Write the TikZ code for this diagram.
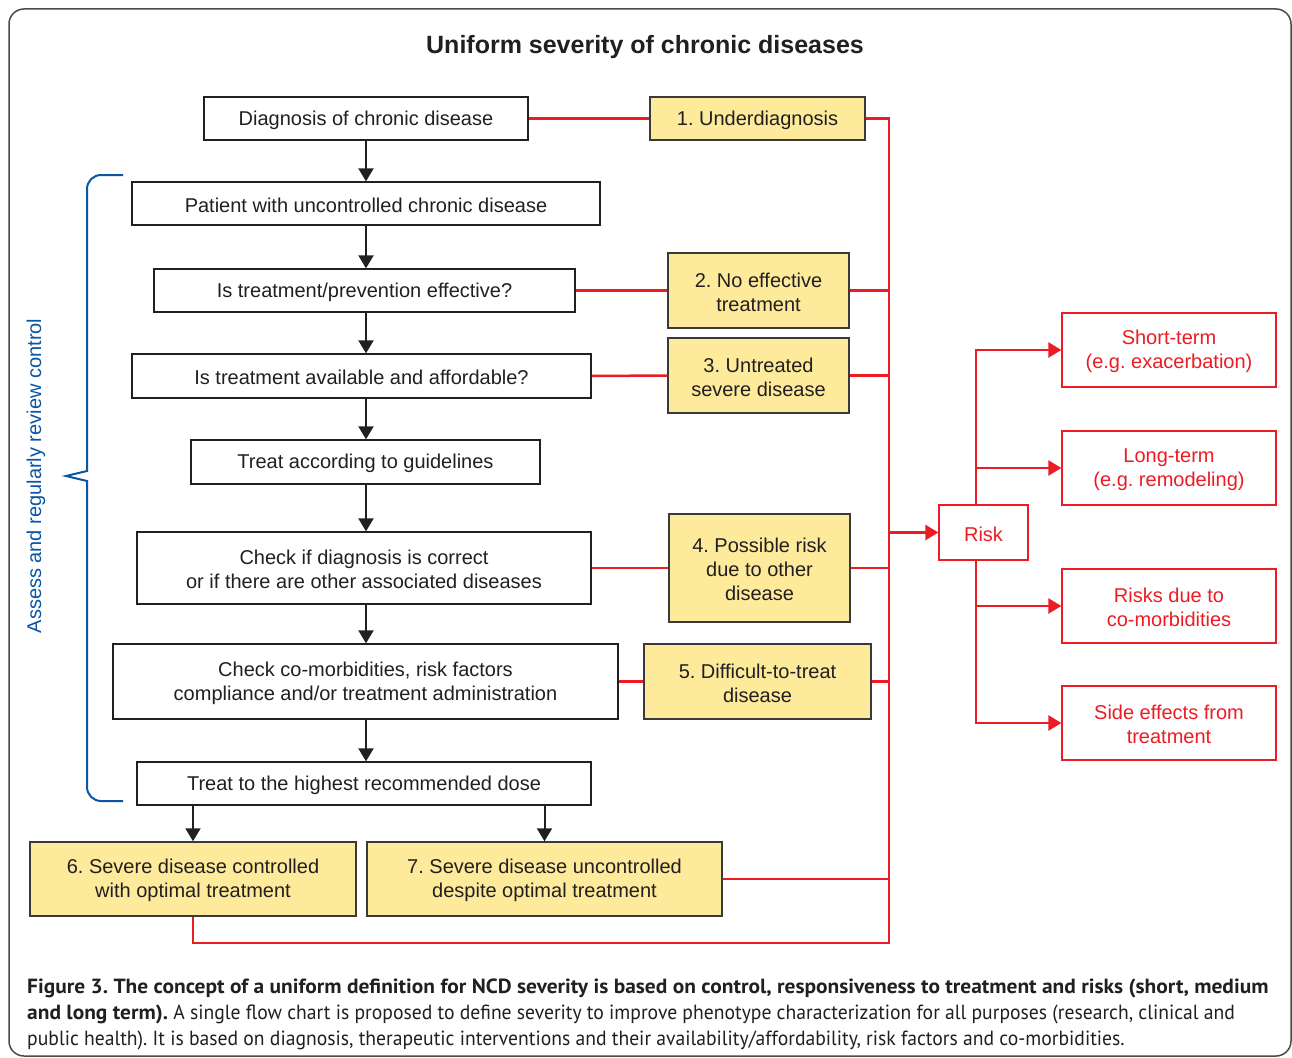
\documentclass[tikz,border=0pt]{standalone}
\usepackage{fontspec}
\setmainfont{Liberation Sans}
\newfontfamily\capfont[FakeStretch=1.045]{PT Sans}
\newfontfamily\capreg[FakeStretch=0.958]{PT Sans}
\usetikzlibrary{arrows.meta,calc}
\frenchspacing
\definecolor{txt}{HTML}{231F20}
\definecolor{yel}{HTML}{FDEA9A}
\definecolor{ybline}{HTML}{3A3A3A}
\definecolor{red1}{HTML}{ED1C24}
\definecolor{blue1}{HTML}{0A56A4}
\definecolor{frame}{HTML}{4A4A4A}
\newcommand\nf{\fontsize{20}{24}\selectfont}
\newcommand\mkbox[7]{%
  \pgfmathsetmacro\cxx{(#3+#5)/2}\pgfmathsetmacro\cyy{(#4+#6)/2}%
  \pgfmathsetmacro\ww{#5-#3}\pgfmathsetmacro\hh{#6-#4}%
  \node[#1,minimum width=\ww pt,minimum height=\hh pt] (#2) at (\cxx,\cyy) {};
  \node[font=\nf, align=center, inner sep=0pt, text=\tcol] (#2-t) at ([yshift=-1.5pt]#2.center) {#7};}
\def\tcol{txt}
\tikzset{
  bx/.style={draw=txt, line width=1.3pt, fill=white, inner sep=0pt},
  yb/.style={bx, fill=yel, draw=ybline, line width=1.5pt},
  rb/.style={draw=red1, line width=1.3pt, fill=white, inner sep=0pt},
  arr/.style={line width=2pt, draw=txt, -{Triangle[length=13pt,width=15pt]}},
  rl/.style={draw=red1, line width=2.5pt},
  rarr/.style={rl, -{Triangle[length=13pt,width=15pt]}},
}
\begin{document}
\begin{tikzpicture}[x=1pt,y=-1pt]
\useasboundingbox (0,0) rectangle (1292,1057);
\fill[white] (0,0) rectangle (1292,1057);
\draw[frame, line width=1.5pt, rounded corners=15pt] (9,9) rectangle (1291,1056);

\node[font=\fontsize{25}{30}\selectfont\bfseries, text=txt] (title) at (645,47) {Uniform severity of chronic diseases};

% main flow
\mkbox{bx}{d}{204}{97}{528}{140}{Diagnosis of chronic disease}
\mkbox{yb}{u1}{650}{97}{865}{140}{1. Underdiagnosis}
\mkbox{bx}{p}{132}{182}{600}{225}{Patient with uncontrolled chronic disease}
\mkbox{bx}{e}{154}{269}{575}{312}{Is treatment/prevention effective?}
\mkbox{yb}{u2}{668}{253}{849}{328}{2. No effective\\treatment}
\mkbox{bx}{a}{132}{354}{591}{398}{Is treatment available and affordable?}
\mkbox{yb}{u3}{668}{338}{849}{413}{3. Untreated\\severe disease}
\mkbox{bx}{g}{191}{440}{540}{484}{Treat according to guidelines}
\mkbox{bx}{c}{137}{532}{591}{604}{Check if diagnosis is correct\\or if there are other associated diseases}
\mkbox{yb}{u4}{669}{514}{850}{622}{4. Possible risk\\due to other\\disease}
\mkbox{bx}{m}{113}{644}{618}{719}{Check co-morbidities, risk factors\\compliance and/or treatment administration}
\mkbox{yb}{u5}{644}{644}{871}{719}{5. Difficult-to-treat\\disease}
\mkbox{bx}{h}{137}{762}{591}{805}{Treat to the highest recommended dose}
\mkbox{yb}{s6}{30}{842}{356}{916}{6. Severe disease controlled\\with optimal treatment}
\mkbox{yb}{s7}{367}{842}{722}{916}{7. Severe disease uncontrolled\\despite optimal treatment}

% risk side
\def\tcol{red1}
\mkbox{rb}{risk}{939}{505}{1028}{560}{Risk}
\mkbox{rb}{r1}{1062}{313}{1276}{387}{Short-term\\(e.g. exacerbation)}
\mkbox{rb}{r2}{1062}{431}{1276}{505}{Long-term\\(e.g. remodeling)}
\mkbox{rb}{r3}{1062}{569}{1276}{643}{Risks due to\\co-morbidities}
\mkbox{rb}{r4}{1062}{686}{1276}{760}{Side effects from\\treatment}

% black arrows
\coordinate (ax) at (366,0);
\foreach \s/\t in {d/p,p/e,e/a,a/g,g/c,c/m,m/h}{
  \draw[arr] (ax |- \s.south) -- (ax |- \t.north);
}
\draw[arr] (s6.north |- h.south) -- (s6.north);
\draw[arr] (s7.north |- h.south) -- (s7.north);

% red connections
\coordinate (tr) at (889,943);
\draw[rl] (d.east) -- (u1.west);
\draw[rl, line join=miter] (u1.east) -| (tr) -| (s6.south);
\draw[rl] (e.east) -- (u2.west);
\draw[rl] (u2.east) -- (u2.east -| tr);
\draw[rl] (a.east) -- (u3.west);
\draw[rl] (u3.east) -- (u3.east -| tr);
\draw[rl] (c.east) -- (u4.west);
\draw[rl] (u4.east) -- (u4.east -| tr);
\draw[rl] (m.east) -- (u5.west);
\draw[rl] (u5.east) -- (u5.east -| tr);
\draw[draw=red1, line width=1.3pt] (s7.east) -- (s7.east -| tr);
\draw[rarr] (risk.west -| tr) -- (risk.west);

\coordinate (rx) at (976,0);
\draw[rl] (rx |- risk.north) -- (rx |- r1.west);
\draw[rl] (rx |- risk.south) -- (rx |- r4.west);
\foreach \r in {r1,r2,r3,r4}{
  \draw[rarr] ([xshift=-1.25pt]rx |- \r.west) -- (\r.west);
}

% blue bracket
\draw[blue1, line width=2pt, rounded corners=14pt] (123,175) -- (87,175) -- (87,320);
\draw[blue1, line width=2pt, line join=miter] (87,319) -- (87,471) -- (66,476) -- (87,481) -- (87,650);
\draw[blue1, line width=2pt, rounded corners=14pt] (87,649) -- (87,801) -- (123,801);
\node[rotate=90, text=blue1, font=\nf] (lbl) at (36,476) {Assess and regularly review control};

% caption
\node[anchor=base west, inner sep=0pt, text=txt, font=\capfont\fontsize{20.5}{24}\selectfont\bfseries] (cap1) at (27,993) {Figure 3. The concept of a uniform definition for NCD severity is based on control, responsiveness to treatment and risks (short, medium};
\node[anchor=base west, inner sep=0pt, text=txt, font=\capreg\fontsize{20.5}{24}\selectfont] (cap2) at (27,1019) {{\capfont\bfseries and long term).} A single flow chart is proposed to define severity to improve phenotype characterization for all purposes (research, clinical and};
\node[anchor=base west, inner sep=0pt, text=txt, font=\capreg\fontsize{20.5}{24}\selectfont] (cap3) at (27,1045) {public health). It is based on diagnosis, therapeutic interventions and their availability/affordability, risk factors and co-morbidities.};
\end{tikzpicture}
\end{document}
